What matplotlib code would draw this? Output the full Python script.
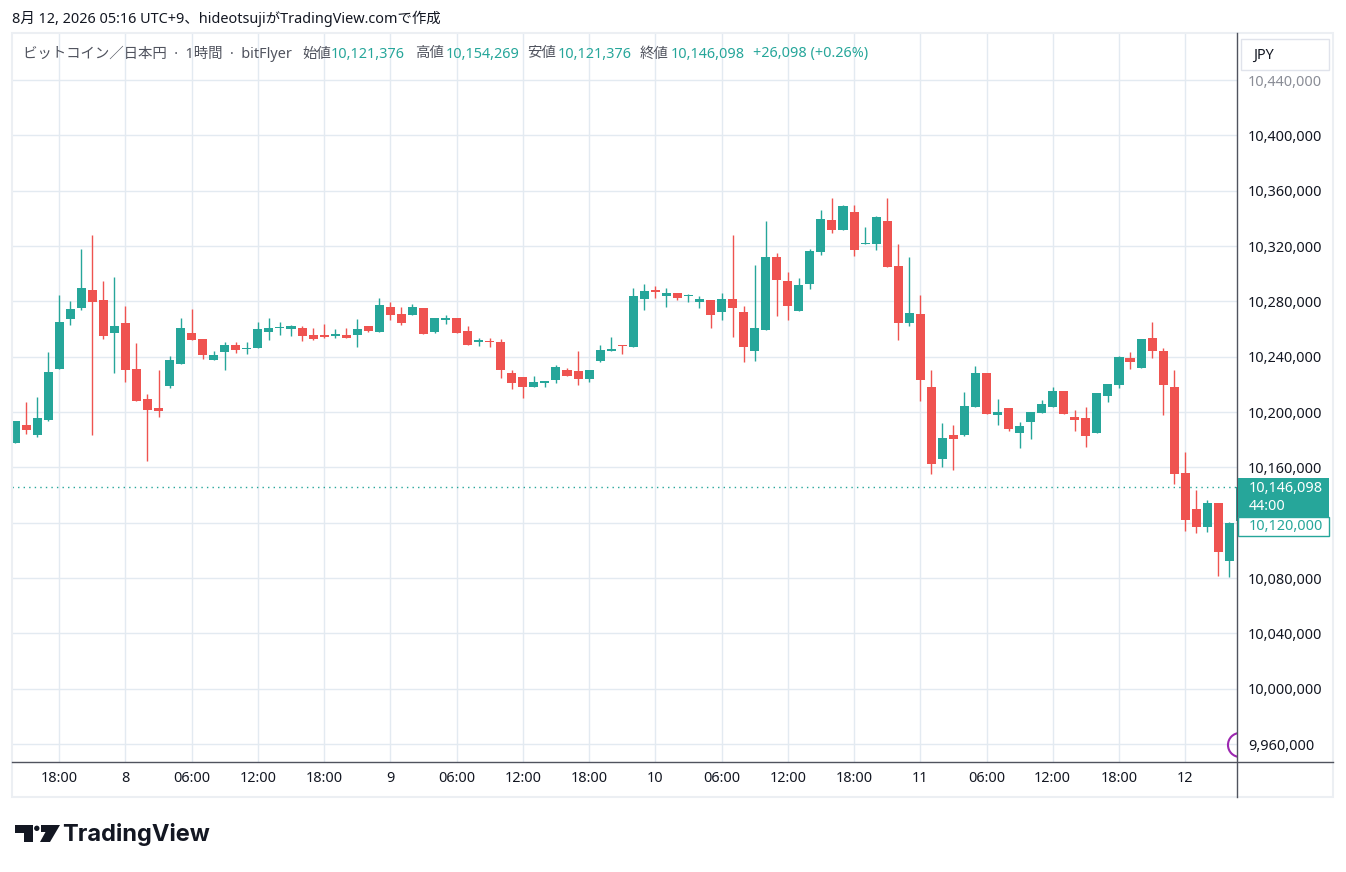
import matplotlib
matplotlib.use("Agg")
import matplotlib.pyplot as plt
import numpy as np
from matplotlib.patches import Rectangle, Polygon, Ellipse
from matplotlib.lines import Line2D

plt.rcParams['font.family'] = ['Noto Sans', 'Noto Sans CJK JP', 'DejaVu Sans']

# hourly candles, 7th 14:00 .. 12th 05:00 (last one is the live candle)
opens = [10177600, 10190530, 10183330, 10194140, 10230890, 10266920, 10274840, 10288530, 10280610, 10256830,
         10264030, 10230890, 10209270, 10202780, 10218640, 10234490, 10256830, 10252500, 10237340, 10243160,
         10248250, 10245580, 10246060, 10257700, 10260850, 10259880, 10260610, 10255520, 10255520, 10254790,
         10255520, 10255520, 10262060, 10257700, 10275880, 10270790, 10270060, 10275150, 10257700, 10266430,
         10267880, 10258430, 10250910, 10250910, 10250430, 10227880, 10224980, 10218430, 10220610, 10222790,
         10230070, 10229340, 10223520, 10236610, 10243860, 10248180, 10246740, 10281330, 10287810, 10284210,
         10286370, 10283730, 10279170, 10280610, 10271960, 10282050, 10271960, 10243860, 10258990, 10312310,
         10295020, 10272680, 10292860, 10315920, 10338980, 10331770, 10344740, 10321200, 10321680, 10338260,
         10305830, 10264030, 10270520, 10217920, 10166030, 10183320, 10183320, 10203500, 10228000, 10198140,
         10202710, 10184660, 10192600, 10199100, 10203430, 10214980, 10196210, 10195490, 10184660, 10211370,
         10219310, 10238800, 10231580, 10253230, 10243850, 10217860, 10155790, 10129810, 10116810, 10134140,
         10092270, 10121376]
highs = [10193400, 10207110, 10210710, 10243140, 10284930, 10279890, 10318080, 10328170, 10295020, 10297900,
         10276280, 10249620, 10212870, 10230170, 10240250, 10267640, 10274120, 10252500, 10243880, 10250430,
         10250430, 10250430, 10264970, 10267880, 10264970, 10262790, 10262060, 10260610, 10263520, 10259880,
         10260610, 10267150, 10262060, 10282420, 10279520, 10275880, 10278060, 10275150, 10267880, 10270060,
         10267880, 10262060, 10253340, 10253340, 10252610, 10230070, 10224980, 10225700, 10222070, 10233700,
         10231520, 10243880, 10230070, 10248250, 10253950, 10248180, 10289980, 10292860, 10291420, 10289980,
         10286370, 10285650, 10284210, 10280610, 10286370, 10328170, 10276280, 10306550, 10338000, 10315200,
         10301500, 10297180, 10318080, 10346180, 10354830, 10349790, 10349790, 10333930, 10341860, 10354830,
         10321680, 10312310, 10284930, 10230170, 10191970, 10190530, 10214310, 10233050, 10228000, 10209200,
         10202710, 10192600, 10199820, 10208480, 10217860, 10214980, 10201260, 10203430, 10213530, 10220030,
         10240240, 10243130, 10252510, 10264780, 10246020, 10230140, 10170950, 10143520, 10136300, 10134140,
         10120420, 10154269]
lows = [10177600, 10184290, 10182130, 10193420, 10230890, 10262590, 10273400, 10183330, 10252500, 10228000,
        10221520, 10207830, 10164590, 10196300, 10217200, 10234490, 10251780, 10238090, 10237340, 10230070,
        10242430, 10241700, 10246060, 10251880, 10255520, 10254790, 10251150, 10251880, 10253340, 10253340,
        10253340, 10246790, 10257700, 10257700, 10266430, 10262790, 10270060, 10256240, 10256970, 10263520,
        10256970, 10248250, 10247520, 10246790, 10224250, 10216980, 10210430, 10218430, 10218430, 10220610,
        10225700, 10219880, 10221340, 10235880, 10243860, 10241690, 10246740, 10273400, 10282770, 10275560,
        10280610, 10279170, 10274840, 10260430, 10266200, 10253950, 10235930, 10236650, 10258990, 10269080,
        10266200, 10272680, 10289250, 10313750, 10329610, 10331770, 10313030, 10321200, 10317360, 10305110,
        10251780, 10261870, 10207830, 10155220, 10160270, 10158110, 10182600, 10203500, 10198460, 10190440,
        10186110, 10173840, 10180330, 10199100, 10203430, 10198380, 10186110, 10174560, 10184660, 10207040,
        10217140, 10230860, 10231580, 10238800, 10197650, 10147850, 10113930, 10112480, 10113200, 10081450,
        10080720, 10121376]
closes = [10193400, 10186930, 10195580, 10228720, 10264750, 10274120, 10289980, 10279170, 10254670, 10261870,
          10230170, 10207830, 10201340, 10200620, 10237370, 10260430, 10251780, 10240970, 10240970, 10248250,
          10244610, 10246060, 10259880, 10260610, 10261340, 10262060, 10254790, 10252610, 10254060, 10256240,
          10253340, 10259880, 10258430, 10277330, 10270060, 10264240, 10275880, 10256240, 10267880, 10267880,
          10256970, 10248250, 10251400, 10250430, 10230070, 10220610, 10218430, 10221340, 10222070, 10232250,
          10225700, 10223520, 10230070, 10244610, 10245300, 10247460, 10284210, 10287810, 10287090, 10286370,
          10282770, 10284450, 10281330, 10269800, 10282050, 10274840, 10246740, 10260430, 10312310, 10295740,
          10276280, 10292140, 10316640, 10339700, 10331770, 10349060, 10317360, 10321680, 10341140, 10305110,
          10264030, 10271240, 10222960, 10162430, 10181160, 10180440, 10204220, 10228000, 10198460, 10199820,
          10187550, 10189710, 10199820, 10205590, 10214980, 10198380, 10194050, 10182500, 10213530, 10220030,
          10239520, 10235910, 10252510, 10243850, 10219310, 10155070, 10121870, 10116810, 10134140, 10098770,
          10120000, 10146098]

time_ticks = [4, 10, 16, 22, 28, 34, 40, 46, 52, 58, 64, 70, 76, 82, 88, 94, 100, 106]
time_labels = ['18:00', '8', '06:00', '12:00', '18:00', '9', '06:00', '12:00', '18:00', '10',
               '06:00', '12:00', '18:00', '11', '06:00', '12:00', '18:00', '12']
price_levels = [9960000, 10000000, 10040000, 10080000, 10120000, 10160000, 10200000,
                10240000, 10280000, 10320000, 10360000, 10400000, 10440000]

UP = '#26a69a'
DOWN = '#ef5350'
GRID = '#e3eaf1'
TXT = '#131722'
AXLINE = '#50535e'

W, H = 1346, 872
fig = plt.figure(figsize=(W / 100, H / 100), dpi=100)
fig.patch.set_facecolor('white')


def fx(x):
    return x / W


def fy(y):
    return 1 - y / H


ax = fig.add_axes([fx(12), fy(762), (1237 - 12) / W, (762 - 33) / H])

o = np.array(opens)
h = np.array(highs)
l = np.array(lows)
c = np.array(closes)
idx = np.arange(len(o))
cols = np.where(c >= o, UP, DOWN)

ax.vlines(idx, l, h, colors=cols, linewidth=1.0, zorder=3)
ax.bar(idx, np.maximum(np.abs(c - o), 900), bottom=np.minimum(o, c), width=0.82,
       color=cols, linewidth=0, zorder=4)

# last price dotted line
ax.axhline(closes[-1], color=UP, linestyle=(0, (1, 3)), linewidth=1, zorder=2)

ax.set_xlim(-0.272, 110.69)
ax.set_ylim(9946990, 10473980)

ax.set_xticks(time_ticks)
ax.set_xticklabels(time_labels)
ax.set_yticks(price_levels)
ax.set_yticklabels([f"{v:,}" for v in price_levels])
ax.yaxis.tick_right()
ax.grid(color=GRID, linewidth=1)
ax.set_axisbelow(True)
ax.tick_params(axis='y', length=0, pad=7.9, labelsize=10.4, labelcolor=TXT)
ax.tick_params(axis='x', length=0, pad=6.5, labelsize=10.4, labelcolor=TXT)
for lbl in ax.get_yticklabels():
    if lbl.get_text() in ('10,400,000', '10,000,000'):
        lbl.set_fontweight('bold')
    if lbl.get_text() == '10,440,000':
        lbl.set_color('#8a8d96')
for lbl in ax.get_xticklabels():
    if lbl.get_text() == '10':
        lbl.set_fontweight('bold')
for s in ax.spines.values():
    s.set_visible(False)

# purple marker at the right edge, near the bottom
ax.add_patch(Ellipse((110.96, 9959300), 24 / 11.04, 24 * 722.9, fill=False,
                     edgecolor='#9c27b0', linewidth=1.5, zorder=5))

# panel border and axis lines
fig.add_artist(Rectangle((fx(12), fy(797)), (1333 - 12) / W, (797 - 33) / H, transform=fig.transFigure,
                         fill=False, edgecolor='#eceff3', linewidth=1.5))
fig.add_artist(Line2D([fx(12), fx(1333)], [fy(762), fy(762)], transform=fig.transFigure,
                      color=AXLINE, linewidth=1))
fig.add_artist(Line2D([fx(1237), fx(1237)], [fy(33), fy(797)], transform=fig.transFigure,
                      color=AXLINE, linewidth=1))

# price boxes on the axis
fig.add_artist(Rectangle((fx(1238), fy(536)), 91 / W, 19 / H, transform=fig.transFigure,
                         facecolor='white', edgecolor=UP, linewidth=1, zorder=5))
fig.text(fx(1249), fy(527), '10,120,000', color=UP, fontsize=10.4, va='center', zorder=6)
fig.add_artist(Rectangle((fx(1238), fy(517)), 91 / W, 39 / H, transform=fig.transFigure,
                         facecolor=UP, edgecolor='none', zorder=5))
fig.text(fx(1249), fy(488), f"{closes[-1]:,}", color='white', fontsize=10.4, va='center', zorder=6)
fig.text(fx(1249), fy(506), '44:00', color='white', fontsize=10.4, va='center', zorder=6)

# currency button
fig.add_artist(Rectangle((fx(1241), fy(70)), 88 / W, 31 / H, transform=fig.transFigure,
                         facecolor='white', edgecolor='#e0e3eb', linewidth=1, zorder=5))
fig.text(fx(1253), fy(55), 'JPY', color=TXT, fontsize=10.4, va='center', zorder=6)

# header
fig.text(fx(12), fy(19), '8月 12, 2026 05:16 UTC+9、hideotsujiがTradingView.comで作成',
         color=TXT, fontsize=10.4, va='center')
legend_parts = [
    (23, 'ビットコイン／日本円  ·  1時間  ·  bitFlyer', '#50535e'),
    (302, '始値', '#50535e'), (331, '10,121,376', UP),
    (415, '高値', '#50535e'), (446, '10,154,269', UP),
    (527, '安値', '#50535e'), (558, '10,121,376', UP),
    (640, '終値', '#50535e'), (671, '10,146,098', UP),
    (753, '+26,098 (+0.26%)', UP),
]
for x, s, col in legend_parts:
    fig.text(fx(x), fy(54), s, color=col, fontsize=10.4, va='center')

# TradingView logo
fig.add_artist(Polygon([(fx(15), fy(825)), (fx(33), fy(825)), (fx(33), fy(842)), (fx(24), fy(842)),
                        (fx(24), fy(833)), (fx(15), fy(833))], closed=True, transform=fig.transFigure,
                       facecolor='#131722', edgecolor='none'))
fig.add_artist(Ellipse((fx(36.8), fy(828.3)), 5.4 / W, 5.4 / H, transform=fig.transFigure,
                       facecolor='#131722', edgecolor='none'))
fig.add_artist(Polygon([(fx(41), fy(825)), (fx(60), fy(825)), (fx(50), fy(842)), (fx(40), fy(842)),
                        (fx(45.5), fy(832)), (fx(41), fy(832))], closed=True, transform=fig.transFigure,
                       facecolor='#131722', edgecolor='none'))
fig.text(fx(62), fy(834), 'TradingView', color='#131722', fontsize=17, fontweight='bold',
         family=['Inter', 'DejaVu Sans'], va='center')

fig.savefig('out.png', dpi=100, facecolor='white')
